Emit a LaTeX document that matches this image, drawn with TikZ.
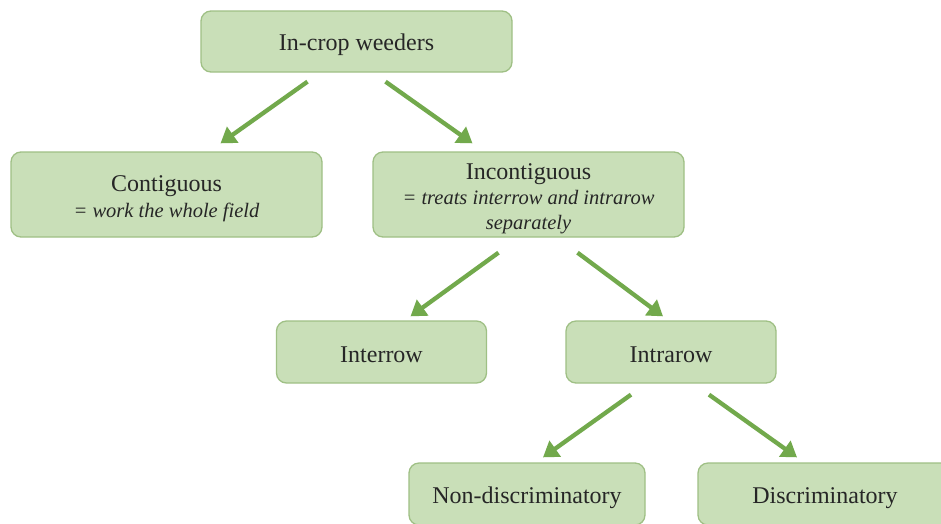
\documentclass[tikz,border=0pt]{standalone}
\usepackage{fontspec}
\setmainfont{Liberation Serif}
\usetikzlibrary{arrows.meta}
\definecolor{boxfill}{HTML}{C9DFB8}
\definecolor{boxline}{HTML}{9FC085}
\definecolor{arrowgreen}{HTML}{72A94C}
\begin{document}
\begin{tikzpicture}[x=1pt,y=-1pt,
  box/.style={draw=boxline, line width=1.3pt, fill=boxfill, rounded corners=10pt,
    inner sep=0pt},
  txt/.style={align=center, inner sep=0pt, text=black!85,
    font=\fontsize{24}{27}\selectfont},
  arr/.style={draw=arrowgreen, line width=4.3pt,
    -{Triangle[length=15pt,width=19pt]}}]
\useasboundingbox (0,0) rectangle (941,523);
\clip (0,0) rectangle (941,523);
\fill[white] (0,0) rectangle (941,523);
\newcommand\subtxt[1]{{\fontsize{20.5}{25}\selectfont\itshape #1}}
% boxes
\node[box, minimum width=311pt, minimum height=61pt] (top) at (356.5,41.5) {};
\node[box, minimum width=311pt, minimum height=85pt] (cont) at (166.5,194.5) {};
\node[box, minimum width=311pt, minimum height=85pt] (incont) at (528.5,194.5) {};
\node[box, minimum width=210pt, minimum height=62pt] (inter) at (381.5,352) {};
\node[box, minimum width=210pt, minimum height=62pt] (intra) at (671,352) {};
\node[box, minimum width=236pt, minimum height=62pt] (nondisc) at (527,494) {};
\node[box, minimum width=254pt, minimum height=62pt] (disc) at (825,494) {};
% texts
\node[txt] (toptext) at ([yshift=-3pt]top.center) {In-crop weeders};
\node[txt] (conttext) at ([yshift=-4pt]cont.center)
  {Contiguous\\[-1pt]\subtxt{= work the whole field}};
\node[txt] (inconttext) at ([yshift=-4.5pt]incont.center)
  {Incontiguous\\[-2pt]\subtxt{= treats interrow and intrarow}\\[-2pt]\subtxt{separately}};
\node[txt] (intertext) at ([yshift=-3pt]inter.center) {Interrow};
\node[txt] (intratext) at ([yshift=-3pt]intra.center) {Intrarow};
\node[txt] (nondisctext) at ([yshift=-4pt]nondisc.center) {Non-discriminatory};
\node[txt] (disctext) at ([yshift=-4pt]disc.center) {Discriminatory};
% arrow end points relative to the boxes
\coordinate (a1s) at ([xshift=-49pt,yshift=-9pt]top.south);
\coordinate (a1e) at ([xshift=54pt,yshift=8pt]cont.north);
\coordinate (a2s) at ([xshift=29pt,yshift=-9pt]top.south);
\coordinate (a2e) at ([xshift=-56pt,yshift=8pt]incont.north);
\coordinate (a3s) at ([xshift=-30pt,yshift=-15pt]incont.south);
\coordinate (a3e) at ([xshift=29pt,yshift=4pt]inter.north);
\coordinate (a4s) at ([xshift=49pt,yshift=-15pt]incont.south);
\coordinate (a4e) at ([xshift=-8pt,yshift=4pt]intra.north);
\coordinate (a5s) at ([xshift=-40pt,yshift=-11pt]intra.south);
\coordinate (a5e) at ([xshift=16pt,yshift=5pt]nondisc.north);
\coordinate (a6s) at ([xshift=38pt,yshift=-11pt]intra.south);
\coordinate (a6e) at ([xshift=-28pt,yshift=5pt]disc.north);
\draw[arr] (a1s) -- (a1e);
\draw[arr] (a2s) -- (a2e);
\draw[arr] (a3s) -- (a3e);
\draw[arr] (a4s) -- (a4e);
\draw[arr] (a5s) -- (a5e);
\draw[arr] (a6s) -- (a6e);
\end{tikzpicture}
\end{document}
